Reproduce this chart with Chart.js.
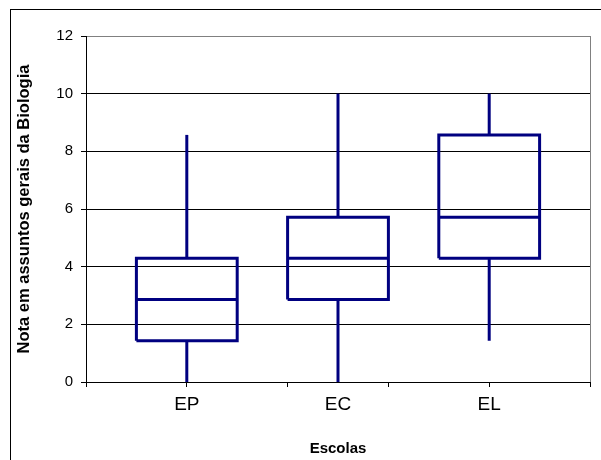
<!DOCTYPE html>
<html>
<head>
<meta charset="utf-8">
<script src="https://cdn.jsdelivr.net/npm/chart.js@4"></script>
<style>
  html, body { margin: 0; padding: 0; background: #fff; overflow: hidden; }
  #wrap { position: relative; width: 601px; height: 460px; }
  #frame { position: absolute; left: 10px; top: 9px; width: 700px; height: 600px;
           border-top: 1px solid #000; border-left: 1px solid #000; pointer-events: none; }
</style>
</head>
<body>
<div id="wrap">
  <canvas id="c" width="601" height="460"></canvas>
  <div id="frame"></div>
</div>
<script>
// ---- data ----
const categories = ['EP', 'EC', 'EL'];
const minValues    = [0.00, 0.00, 1.43];
const q1Values     = [1.43, 2.86, 4.29];
const medianValues = [2.86, 4.29, 5.71];
const q3Values     = [4.29, 5.71, 8.57];
const maxValues    = [8.57, 10.00, 10.00];
const yTicks = [0, 2, 4, 6, 8, 10, 12];

// ---- layout of categories on a linear x axis (0..5) ----
const centerOf = i => 1 + 1.5 * i;
const halfW = 0.5;
const navy = '#000080';

const datasets = [];
categories.forEach((cat, i) => {
  const c = centerOf(i);
  const base = { showLine: true, borderColor: navy, borderWidth: 3, pointRadius: 0,
                 fill: false, clip: false, borderJoinStyle: 'miter', borderCapStyle: 'butt' };
  datasets.push(Object.assign({ label: cat + ' box', data: [
    { x: c - halfW, y: q1Values[i] }, { x: c - halfW, y: q3Values[i] },
    { x: c + halfW, y: q3Values[i] }, { x: c + halfW, y: q1Values[i] },
    { x: c - halfW, y: q1Values[i] }] }, base));
  datasets.push(Object.assign({ label: cat + ' median', data: [
    { x: c - halfW, y: medianValues[i] }, { x: c + halfW, y: medianValues[i] }] }, base));
  datasets.push(Object.assign({ label: cat + ' upper', data: [
    { x: c, y: q3Values[i] }, { x: c, y: maxValues[i] }] }, base));
  datasets.push(Object.assign({ label: cat + ' lower', data: [
    { x: c, y: minValues[i] }, { x: c, y: q1Values[i] }] }, base));
});

const labelAt = v => {
  for (let i = 0; i < categories.length; i++) if (Math.abs(centerOf(i) - v) < 1e-6) return categories[i];
  return '';
};

const rightBorder = {
  id: 'rightBorder',
  afterDatasetsDraw(chart) {
    const { ctx, chartArea: a } = chart;
    ctx.save();
    ctx.strokeStyle = '#808080';
    ctx.lineWidth = 1;
    ctx.beginPath();
    ctx.moveTo(a.right + 0.5, a.top);
    ctx.lineTo(a.right + 0.5, a.bottom);
    ctx.stroke();
    ctx.restore();
  }
};

new Chart(document.getElementById('c'), {
  type: 'scatter',
  data: { datasets },
  plugins: [rightBorder],
  options: {
    responsive: false,
    animation: false,
    layout: { padding: { top: 36, right: 11, left: 0, bottom: 0 } },
    plugins: { legend: { display: false }, tooltip: { enabled: false } },
    scales: {
      x: {
        type: 'linear', min: 0, max: 5,
        afterFit(s) { s.height = 78; },
        afterBuildTicks(s) {
          const vals = [0, 1, 2, 3, 4, 5];
          categories.forEach((_, i) => { if (!vals.includes(centerOf(i))) vals.push(centerOf(i)); });
          vals.sort((a, b) => a - b);
          s.ticks = vals.map(v => ({ value: v }));
        },
        ticks: {
          autoSkip: false, maxRotation: 0, padding: 6,
          font: { family: 'Liberation Sans', size: 19 }, color: '#000',
          callback: v => labelAt(v)
        },
        grid: {
          drawOnChartArea: false, drawTicks: true, tickLength: 5, tickWidth: 1,
          tickColor: ctx => (Number.isInteger(ctx.tick.value) ? '#000' : 'rgba(0,0,0,0)')
        },
        border: { color: '#000', width: 1 },
        title: { display: true, text: 'Escolas', color: '#000',
                 font: { family: 'Liberation Sans', size: 15, weight: 'bold' },
                 padding: { top: 0, bottom: 2 } }
      },
      y: {
        min: 0, max: 12,
        afterFit(s) { s.width = 86; },
        afterBuildTicks(s) { s.ticks = yTicks.map(v => ({ value: v })); },
        ticks: { padding: 8, color: '#000', font: { family: 'Liberation Sans', size: 15 } },
        grid: {
          color: ctx => (ctx.tick && ctx.tick.value === 12 ? '#808080' : '#000'),
          lineWidth: 1, tickLength: 5, tickColor: '#000'
        },
        border: { color: '#000', width: 1 },
        title: { display: true, text: 'Nota em assuntos gerais da Biologia', color: '#000',
                 font: { family: 'Liberation Sans', size: 16.5, weight: 'bold' },
                 padding: { top: 15, bottom: 0 } }
      }
    }
  }
});
</script>
</body>
</html>
